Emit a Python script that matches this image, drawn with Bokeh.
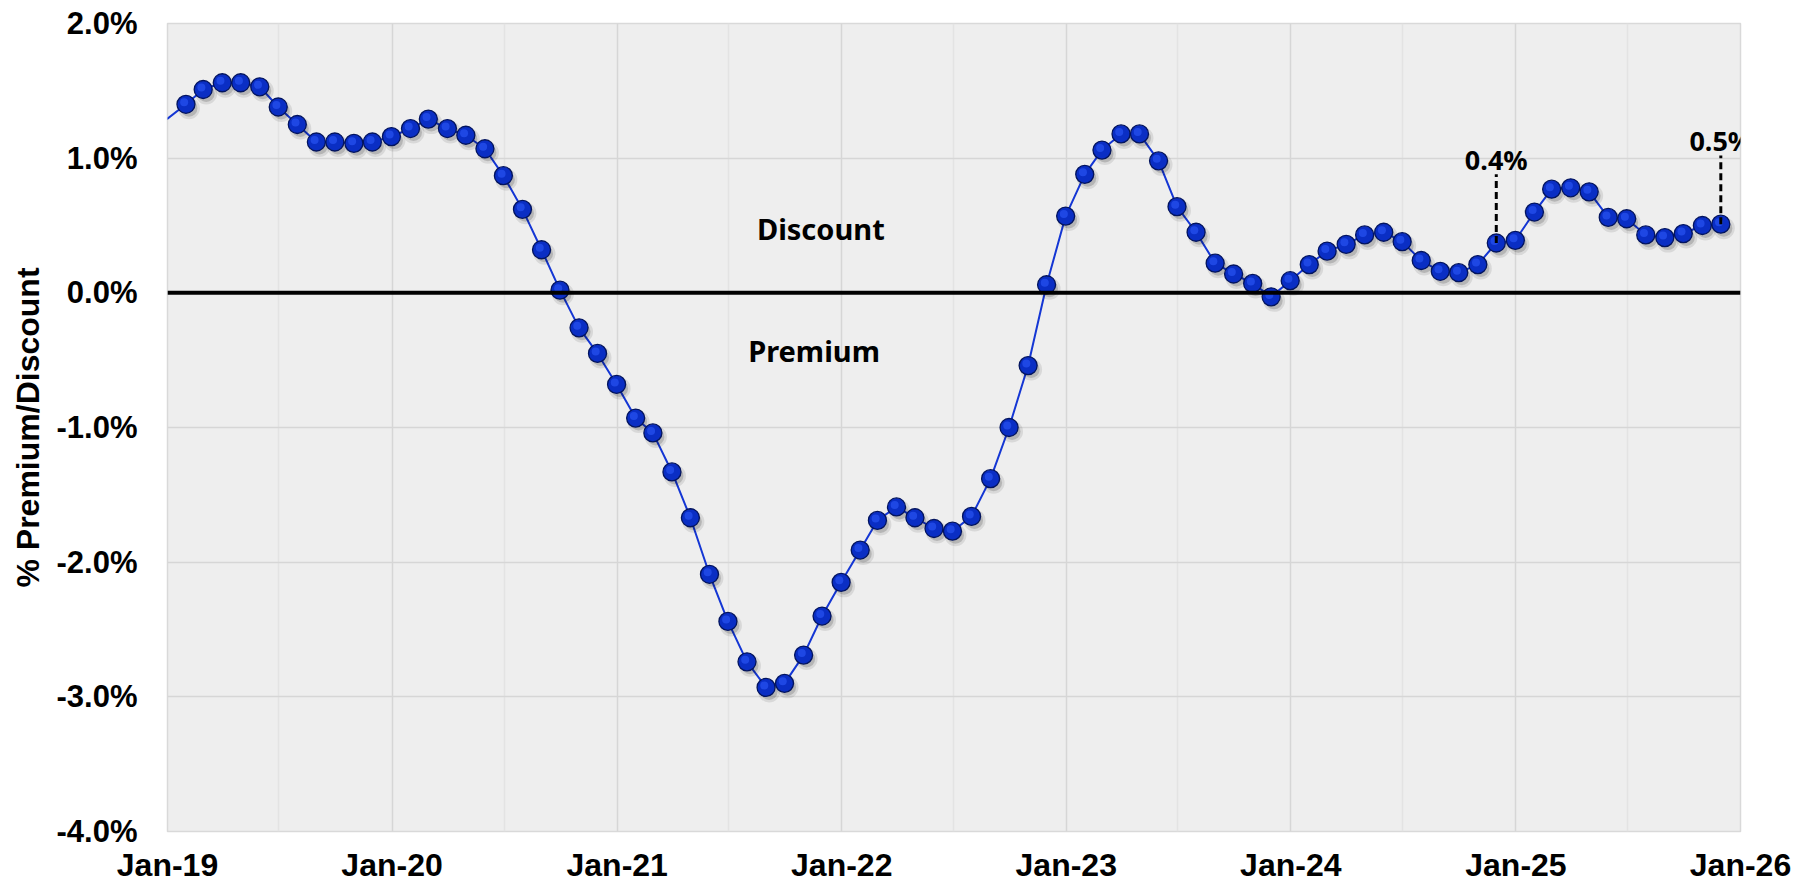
import pandas as pd
from bokeh.plotting import figure
from bokeh.models import (Range1d, FixedTicker, DatetimeTickFormatter, PrintfTickFormatter,
                          ColumnDataSource, Span, Label)
from bokeh.embed import file_html
from bokeh.resources import INLINE

# ---------------- data ----------------
# month-end observations, Dec-2018 .. Nov-2025 (in %)
start_month = "2018-12-31"
premium_discount = [
    1.29,
    1.40, 1.51, 1.56, 1.56, 1.53, 1.38, 1.25, 1.12, 1.12, 1.11, 1.12, 1.16,
    1.22, 1.29, 1.22, 1.17, 1.07, 0.87, 0.62, 0.32, 0.02, -0.26, -0.45, -0.68,
    -0.93, -1.04, -1.33, -1.67, -2.09, -2.44, -2.74, -2.93, -2.90, -2.69, -2.40, -2.15,
    -1.91, -1.69, -1.59, -1.67, -1.75, -1.77, -1.66, -1.38, -1.00, -0.54, 0.06, 0.57,
    0.88, 1.06, 1.18, 1.18, 0.98, 0.64, 0.45, 0.22, 0.14, 0.07, -0.03, 0.09,
    0.21, 0.31, 0.36, 0.43, 0.45, 0.38, 0.24, 0.16, 0.15, 0.21, 0.37, 0.39,
    0.60, 0.77, 0.78, 0.75, 0.56, 0.55, 0.43, 0.41, 0.44, 0.50, 0.51,
]
dates = pd.date_range(start_month, periods=len(premium_discount), freq="ME")

year_ticks = pd.date_range("2019-01-01", "2026-01-01", freq="YS")
mid_ticks = pd.date_range("2019-07-01", "2025-07-01", freq="12MS")
y_ticks = [-4, -3, -2, -1, 0, 1, 2]

callout_dates = ["2024-11-30", "2025-11-30"]
callout_labels = ["0.4%", "0.5%"]
region_labels = ["Discount", "Premium"]
region_y = [0.48, -0.43]
region_x = ["2021-11-28", "2021-11-17"]

# ---------------- figure ----------------
def ms(d):
    return pd.Timestamp(d).value / 1e6

x0, x1 = ms("2019-01-01"), ms("2026-01-01")
y0, y1 = -4, 2
W, H = 1811, 885
BL, BR, BT, BB = 167, 71, 23, 53
p = figure(width=W, height=H, output_backend="svg", toolbar_location=None,
           x_axis_type="datetime",
           x_range=Range1d(x0, x1), y_range=Range1d(y0, y1),
           min_border_left=BL, min_border_right=BR, min_border_top=BT, min_border_bottom=BB)

p.border_fill_color = "#ffffff"
p.background_fill_color = "#eeeeee"
p.outline_line_color = "#d9d9d9"
p.outline_line_width = 1.5

# axes
p.xaxis.ticker = FixedTicker(ticks=[ms(t) for t in year_ticks],
                             minor_ticks=[ms(t) for t in mid_ticks])
p.xaxis.formatter = DatetimeTickFormatter(years="%b-%y", months="%b-%y", days="%b-%y")
p.yaxis.ticker = FixedTicker(ticks=y_ticks)
p.yaxis.formatter = PrintfTickFormatter(format="%.1f%%")
for ax in (p.xaxis[0], p.yaxis[0]):
    ax.axis_line_color = None
    ax.major_tick_line_color = None
    ax.minor_tick_line_color = None
    ax.major_tick_out = 0
    ax.major_tick_in = 0
    ax.minor_tick_out = 0
    ax.minor_tick_in = 0
    ax.major_label_text_font = "Liberation Sans"
    ax.major_label_text_font_style = "bold"
    ax.major_label_text_color = "#000000"
p.xaxis.major_label_text_font_size = "32px"
p.yaxis.major_label_text_font_size = "31px"
p.xaxis.major_label_standoff = 15
p.yaxis.major_label_standoff = 30
p.yaxis.axis_label = "% Premium/Discount"
p.yaxis.axis_label_text_font = "Liberation Sans"
p.yaxis.axis_label_text_font_style = "bold"
p.yaxis.axis_label_text_font_size = "32px"
p.yaxis.axis_label_text_color = "#000000"
p.yaxis.axis_label_standoff = 8

# grids
p.xgrid.grid_line_color = "#d6d6d6"
p.xgrid.grid_line_width = 1.5
p.xgrid.minor_grid_line_color = "#e3e3e3"
p.xgrid.minor_grid_line_width = 1.5
p.ygrid.grid_line_color = "#d6d6d6"
p.ygrid.grid_line_width = 1.5

# zero line
p.add_layout(Span(location=0, dimension="width", line_color="#000000", line_width=4))

# series
src = ColumnDataSource(dict(x=dates, y=premium_discount))
mk = ColumnDataSource(dict(x=dates[1:], y=premium_discount[1:]))

frame_w = W - BL - BR
frame_h = H - BT - BB
dx = 3 * (x1 - x0) / frame_w
dy = -4 * (y1 - y0) / frame_h
shadow = ColumnDataSource(dict(x=[ms(d) + dx for d in dates[1:]],
                               y=[v + dy for v in premium_discount[1:]]))

p.line("x", "y", source=src, line_color="#1436d4", line_width=2)
p.scatter("x", "y", source=shadow, size=22, fill_color="#000000", fill_alpha=0.09,
          line_color=None)
p.scatter("x", "y", source=shadow, size=17, fill_color="#000000", fill_alpha=0.16,
          line_color=None)
p.scatter("x", "y", source=mk, size=18, fill_color="#0a2ec4", line_color="#03145e",
          line_width=1.3)
hl = ColumnDataSource(dict(x=[ms(d) - dx * 0.6 for d in dates[1:]],
                           y=[v - dy * 0.5 for v in premium_discount[1:]]))
p.scatter("x", "y", source=hl, size=8, fill_color="#2f5cff", fill_alpha=0.55,
          line_color=None)

# callouts
lookup = dict(zip([d.strftime("%Y-%m-%d") for d in dates], premium_discount))
for d, lab in zip(callout_dates, callout_labels):
    v = lookup[d]
    p.segment(x0=[ms(d)], y0=[v], x1=[ms(d)], y1=[v + 0.51], line_color="#000000",
              line_width=3, line_dash="7 4")
    sx = (ms(d) - x0) / (x1 - x0) * frame_w
    p.add_layout(Label(x=sx, x_units="screen", y=v + 0.62, text=lab, text_align="center",
                       text_baseline="alphabetic", text_font="Noto Sans",
                       text_font_style="bold", text_font_size="27px", text_color="#000000"))

# region labels
for lab, xx, yy in zip(region_labels, region_x, region_y):
    p.add_layout(Label(x=ms(xx), y=yy, text=lab, text_align="center",
                       text_baseline="middle", text_font="Noto Sans",
                       text_font_style="bold", text_font_size="29px", text_color="#000000"))

open("out.html", "w").write(file_html(p, INLINE))
